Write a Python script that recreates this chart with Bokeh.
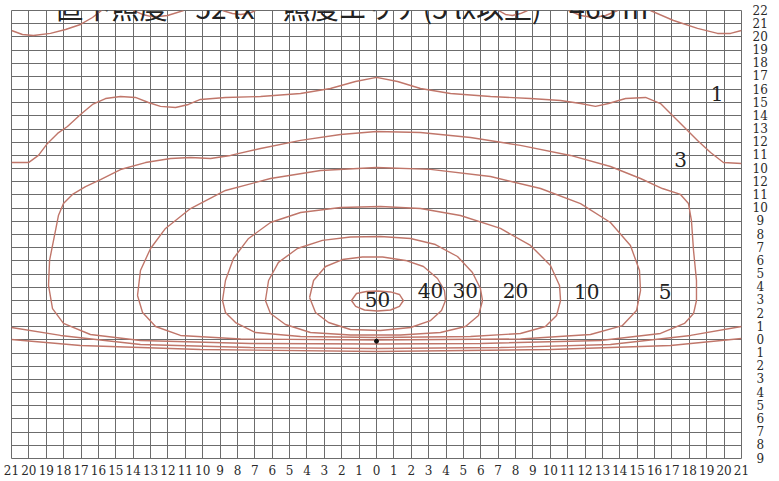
from bokeh.plotting import figure
from bokeh.models import FixedTicker, Label, Range1d
from bokeh.core.properties import value
from bokeh.embed import file_html
from bokeh.resources import INLINE

# ---------------- data ----------------
title_text = "直下照度　52 lx　照度エリア(5 lx以上)　463 m²"

x_ticks = list(range(-21, 22))
x_tick_labels = ["21", "20", "19", "18", "17", "16", "15", "14", "13", "12", "11",
                 "10", "9", "8", "7", "6", "5", "4", "3", "2", "1", "0",
                 "1", "2", "3", "4", "5", "6", "7", "8", "9", "10",
                 "11", "12", "13", "14", "15", "16", "17", "18", "19", "20", "21"]
row_ticks = list(range(0, 35))
row_labels = ["9", "8", "7", "6", "5", "4", "3", "2", "1", "0",
              "1", "2", "3", "4", "5", "6", "7", "8", "9",
              "10", "11", "12",
              "10", "11", "12", "13", "14", "15", "16", "17", "18", "19", "20", "21", "22"]

# luminaire position (m, row)
lum_x = [0.0]
lum_y = [8.9]

# 50 lx
c50_x = [-1.44, -1.15, -0.58, 0.06, 0.81, 1.32, 1.55, 1.32, 0.81, 0.06, -0.69, -1.20, -1.44]
c50_y = [11.99, 12.52, 12.67, 12.71, 12.64, 12.45, 11.99, 11.54, 11.27, 11.19, 11.27, 11.54, 11.99]
# 40 lx
c40_x = [-3.85, -3.62, -2.93, -1.96, -0.81, 0.35, 1.67, 2.70, 3.51, 3.91, 3.97, 3.74, 3.11, 1.96,
         0.23, -1.50, -2.76, -3.51, -3.85]
c40_y = [12.22, 13.51, 14.57, 15.10, 15.29, 15.29, 15.03, 14.57, 13.66, 12.75, 11.99, 11.23, 10.47,
         9.94, 9.71, 9.79, 10.32, 11.08, 12.22]
# 30 lx
c30_x = [-6.39, -6.21, -5.64, -4.55, -3.11, -1.50, 0.23, 1.96, 3.39, 4.66, 5.52, 5.98, 6.10, 5.87,
         5.12, 3.68, 1.38, -1.50, -3.80, -5.24, -6.10, -6.39]
c30_y = [11.99, 13.51, 14.88, 15.94, 16.55, 16.81, 16.85, 16.70, 16.24, 15.33, 14.12, 12.90, 11.99,
         10.85, 10.02, 9.56, 9.37, 9.37, 9.56, 10.17, 11.00, 11.99]
# 20 lx
c20_x = [-8.86, -8.69, -8.23, -7.36, -6.10, -4.37, -2.07, 0.23, 2.53, 4.83, 7.13, 8.86, 10.01, 10.53,
         10.59, 10.36, 9.72, 8.28, 5.41, 0.00, -4.37, -6.96, -8.11, -8.69, -8.86]
c20_y = [11.99, 13.51, 15.18, 16.70, 17.91, 18.67, 19.05, 19.13, 18.97, 18.44, 17.46, 16.17, 14.65,
         13.13, 11.99, 10.85, 10.02, 9.49, 9.26, 9.18, 9.26, 9.56, 10.32, 11.08, 11.99]
# 10 lx
c10_x = [-13.75, -13.58, -13.00, -12.14, -10.70, -8.69, -6.10, -3.22, 0.00, 3.11, 6.56, 9.44, 11.74,
         13.46, 14.61, 15.13, 15.19, 14.96, 14.15, 12.31, 8.28, 0.00, -7.82, -11.28, -12.71, -13.46,
         -13.75]
c10_y = [12.37, 14.27, 15.94, 17.46, 18.97, 20.34, 21.25, 21.86, 22.09, 21.94, 21.40, 20.49, 19.35,
         17.91, 16.17, 14.27, 12.75, 11.23, 10.09, 9.41, 9.07, 8.99, 9.07, 9.34, 10.02, 11.08, 12.37]
# 5 lx
c5_x = [-18.47, -18.30, -18.01, -17.49, -16.74, -15.88, -14.73, -13.29, -11.85, -10.70, -9.55, -8.40,
        -6.67, -4.37, -2.07, 0.00, 2.53, 5.41, 8.28, 11.16, 13.46, 15.19, 16.45, 17.49, 17.95, 18.12,
        18.24, 18.41, 18.41, 18.24, 17.72, 16.34, 12.89, 5.98, 0.00, -7.25, -13.58, -16.46, -18.01,
        -18.64, -18.87, -18.81, -18.47]
c5_y = [17.30, 18.44, 19.35, 20.04, 20.64, 21.17, 21.93, 22.46, 22.77, 22.84, 22.77, 23.00,
        23.53, 24.14, 24.59, 24.82, 24.74, 24.36, 23.76, 23.00, 22.16, 21.25, 20.49, 20.04, 19.35, 18.06,
        15.79, 13.51, 11.99, 11.00, 10.25, 9.49, 8.96, 8.73, 8.69, 8.73, 8.96, 9.41, 10.25,
        11.38, 13.13, 15.03, 17.30]
# 3 lx (upper and lower branches, cut by the chart edges)
c3_top_x = [-21.00, -20.02, -19.45, -18.93, -18.35, -17.78, -17.03, -16.34, -15.59, -14.73, -13.87,
            -13.12, -12.43, -11.56, -10.82, -10.13, -8.69, -6.67, -4.37, -2.65, -1.21, 0.00, 1.21,
            2.53, 4.26, 6.56, 8.86, 10.59, 11.74, 12.60, 13.35, 14.33, 15.48, 16.34, 17.03, 17.78,
            18.47, 19.22, 19.96, 21.00]
c3_top_y = [22.46, 22.46, 23.00, 23.91, 24.67, 25.20, 26.11, 26.87, 27.32, 27.47, 27.40,
            27.02, 26.72, 26.64, 26.87, 27.25, 27.40, 27.47, 27.70, 28.08, 28.61, 28.92, 28.61,
            28.08, 27.70, 27.47, 27.32, 27.17, 26.94, 26.72, 26.94, 27.32, 27.40, 26.94, 26.03, 25.05,
            24.14, 23.22, 22.46, 22.39]
c3_bot_x = [-21.00, -18.18, -13.58, -7.25, 0.00, 7.13, 13.46, 18.07, 21.00]
c3_bot_y = [9.94, 9.34, 8.65, 8.42, 8.35, 8.42, 8.65, 9.34, 10.02]
# 1 lx (lower branch and the arcs along the top edge)
c1_bot_x = [-21.00, -17.03, -10.13, 0.00, 10.01, 16.92, 21.00]
c1_bot_y = [9.03, 8.58, 8.27, 8.12, 8.27, 8.58, 9.11]
c1_arcs_x = [[-21.00, -20.37, -19.74, -18.76, -17.89, -17.03, -16.34, -15.82],
             [-13.98, -13.46, -13.00, -12.54, -12.02, -11.10],
             [-8.86, -8.29, -7.82, -7.36, -6.96],
             [7.02, 7.42, 7.82, 8.28, 8.69],
             [11.05, 11.74, 12.48, 13.18, 13.87],
             [15.76, 17.09, 18.47, 19.62, 20.37, 21.00]]
c1_arcs_y = [[32.48, 32.18, 32.10, 32.26, 32.56, 32.94, 33.47, 34.00],
             [34.00, 33.70, 33.55, 33.55, 33.62, 34.00],
             [34.00, 33.77, 33.70, 33.77, 34.00],
             [34.00, 33.70, 33.62, 33.77, 34.00],
             [34.00, 33.62, 33.47, 33.62, 34.00],
             [34.00, 33.24, 32.64, 32.26, 32.26, 32.48]]

level_text = ["50", "40", "30", "20", "10", "5", "3", "1"]
level_x = [0.06, 3.1, 5.1, 8.0, 12.1, 16.6, 17.5, 19.6]
level_y = [12.06, 12.75, 12.75, 12.75, 12.7, 12.7, 22.7, 27.7]

# ---------------- figure ----------------
GRID = "#6c6c6c"
LINE = "#c0766a"
SERIF = "DejaVu Serif"

p = figure(frame_width=730, frame_height=448,
           x_range=Range1d(-21, 21), y_range=Range1d(0, 34),
           x_axis_location="below", y_axis_location="right",
           min_border_left=11, min_border_top=10, min_border_right=37, min_border_bottom=22,
           output_backend="svg", toolbar_location=None)
p.background_fill_color = "white"
p.border_fill_color = "white"
p.outline_line_color = GRID
p.outline_line_width = 1

p.xgrid.ticker = FixedTicker(ticks=x_ticks)
p.ygrid.ticker = FixedTicker(ticks=row_ticks)
for g in (p.xgrid, p.ygrid):
    g.grid_line_color = GRID
    g.grid_line_width = 1

p.xaxis.ticker = FixedTicker(ticks=x_ticks)
p.xaxis.major_label_overrides = {t: l for t, l in zip(x_ticks, x_tick_labels)}
p.yaxis.ticker = FixedTicker(ticks=row_ticks)
p.yaxis.major_label_overrides = {t: (l if len(l) > 1 else "\u2004" + l)
                                 for t, l in zip(row_ticks, row_labels)}
for ax in (p.xaxis, p.yaxis):
    ax.axis_line_color = None
    ax.major_tick_line_color = None
    ax.minor_tick_line_color = None
    ax.major_tick_out = 0
    ax.major_tick_in = 0
    ax.minor_tick_out = 0
    ax.minor_tick_in = 0
    ax.major_label_text_font = SERIF
    ax.major_label_text_font_size = "12px"
    ax.major_label_text_color = "#2a2a2a"
p.xaxis.major_label_standoff = 6
p.yaxis.major_label_standoff = 11

# contours
for xs, ys in [(c50_x, c50_y), (c40_x, c40_y), (c30_x, c30_y), (c20_x, c20_y),
               (c10_x, c10_y), (c5_x, c5_y), (c3_top_x, c3_top_y), (c3_bot_x, c3_bot_y),
               (c1_bot_x, c1_bot_y)]:
    p.line(xs, ys, line_color=LINE, line_width=1.4)
p.multi_line(c1_arcs_x, c1_arcs_y, line_color=LINE, line_width=1.4)

p.scatter(lum_x, lum_y, size=4, color="#111111")

p.text(x=level_x, y=level_y, text=level_text, text_font=value(SERIF),
       text_font_size="20px", text_color="#222222",
       text_align="center", text_baseline="middle")

p.add_layout(Label(x=-18.47, y=34.27, text=title_text, text_font="Noto Sans CJK JP",
                   text_font_size="28px", text_color="#222222", text_baseline="alphabetic"))
p.add_layout(Label(x=22.5, y=-1.3, text="(m)", text_font=SERIF, text_font_size="7px",
                   text_color="#333333", text_align="center", text_baseline="middle"))

open("out.html", "w").write(file_html(p, INLINE))
